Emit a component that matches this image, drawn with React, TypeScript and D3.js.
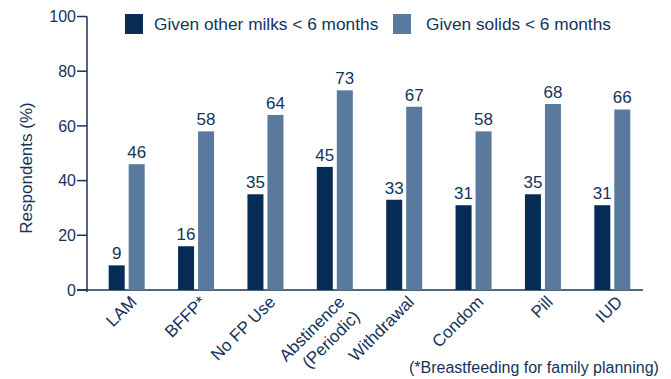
import React from "react";
import * as d3 from "d3";

const categories = ["LAM", "BFFP*", "No FP Use", "Abstinence\n(Periodic)", "Withdrawal", "Condom", "Pill", "IUD"];
const otherMilks = [9, 16, 35, 45, 33, 31, 35, 31];
const solids = [46, 58, 64, 73, 67, 58, 68, 66];
const yTicks = [0, 20, 40, 60, 80, 100];
const seriesNames = ["Given other milks < 6 months", "Given solids < 6 months"];

const DARK = "#062c55";
const LIGHT = "#5a7a9d";
const TEXT = "#15335a";
const FONT = "Liberation Sans, Arial, sans-serif";

export default function App() {
  const W = 671, H = 379;
  const axisX = 87;
  const y = d3.scaleLinear().domain([0, 100]).range([290, 16.5]);
  const x = d3.scaleBand().domain(categories).range([92, 647]);
  const bw = 16, gap = 4;
  return (
    <svg width={W} height={H} style={{ position: "absolute", left: 0, top: 0 }} fontFamily={FONT}>
      <rect width={W} height={H} fill="#fff" />
      <line x1={axisX} x2={axisX} y1={y(100)} y2={y(0) + 2} stroke={TEXT} strokeWidth={1.5} />
      <line x1={77} x2={643} y1={y(0)} y2={y(0)} stroke={TEXT} strokeWidth={1.5} />
      {yTicks.map((t) => (
        <g key={t}>
          <line x1={77} x2={axisX} y1={y(t)} y2={y(t)} stroke={TEXT} strokeWidth={1.5} />
          <text x={76} y={y(t)} dy="0.35em" textAnchor="end" fontSize={16} fill={TEXT}>{t}</text>
        </g>
      ))}
      <text transform={`translate(32,168) rotate(-90)`} textAnchor="middle" fontSize={17} fill={TEXT}>Respondents (%)</text>
      {categories.map((c, i) => {
        const cx = (x(c) as number) + x.bandwidth() / 2;
        const x1 = cx - gap / 2 - bw;
        const x2 = cx + gap / 2;
        return (
          <g key={c}>
            <rect x={x1} y={y(otherMilks[i])} width={bw} height={y(0) - y(otherMilks[i])} fill={DARK} />
            <rect x={x2} y={y(solids[i])} width={bw} height={y(0) - y(solids[i])} fill={LIGHT} />
            <text x={x1 + bw / 2} y={y(otherMilks[i]) - 6} textAnchor="middle" fontSize={17} fill={TEXT}>{otherMilks[i]}</text>
            <text x={x2 + bw / 2} y={y(solids[i]) - 6} textAnchor="middle" fontSize={17} fill={TEXT}>{solids[i]}</text>
            <g transform={`translate(${cx + 11},${303}) rotate(-45)`}>
              {c.split("\n").map((line, j) => (
                <text key={j} x={0} y={j * 21} textAnchor="end" fontSize={17} fill={TEXT}>{line}</text>
              ))}
            </g>
          </g>
        );
      })}
      <rect x={125} y={14} width={18} height={20} fill={DARK} />
      <text x={154} y={30} fontSize={17.3} fill={TEXT}>{seriesNames[0]}</text>
      <rect x={393} y={14} width={18} height={20} fill={LIGHT} />
      <text x={426} y={30} fontSize={17.3} fill={TEXT}>{seriesNames[1]}</text>
      <text x={409} y={373} fontSize={16} fill={TEXT}>(*Breastfeeding for family planning)</text>
    </svg>
  );
}
